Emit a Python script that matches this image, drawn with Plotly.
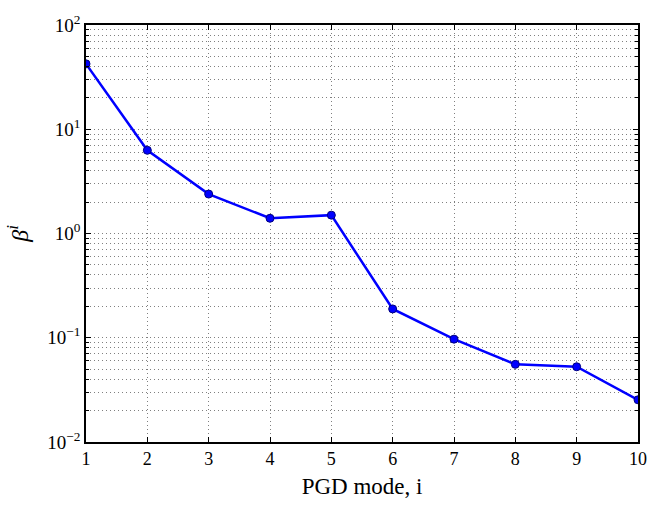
import plotly.graph_objects as go

modes = [1, 2, 3, 4, 5, 6, 7, 8, 9, 10]
beta = [42.4, 6.28, 2.39, 1.40, 1.50, 0.189, 0.097, 0.0556, 0.0527, 0.0254]

y_tickvals = [0.01, 0.1, 1, 10, 100]
y_ticktext = ["10<sup>−2</sup>", "10<sup>−1</sup>", "10<sup>0</sup>", "10<sup>1</sup>", "10<sup>2</sup>"]
minor_vals = [m * 10 ** e for e in range(-2, 2) for m in range(2, 10)]

fig = go.Figure()
fig.add_trace(go.Scatter(
    x=modes, y=beta, mode="lines+markers",
    line=dict(color="#0000ff", width=2.5),
    marker=dict(color="#0000ff", size=8, line=dict(color="#00007f", width=1)),
    showlegend=False,
))

font_family = "Liberation Serif, DejaVu Serif, serif"
grid_dash = "1px,3px"
grid_col = "#808080"
fig.update_layout(
    width=667, height=507,
    margin=dict(l=86, r=29, t=15, b=63),
    paper_bgcolor="white", plot_bgcolor="white",
    font=dict(family=font_family, color="black", size=18),
)
fig.update_xaxes(
    range=[1, 10], dtick=1, tick0=1,
    showline=True, linecolor="black", linewidth=1.5, mirror="ticks",
    ticks="inside", ticklen=5, tickcolor="black",
    showgrid=True, gridcolor=grid_col, griddash=grid_dash, gridwidth=1,
    zeroline=False,
    title=dict(text="PGD mode, i", font=dict(size=23), standoff=10),
    tickfont=dict(size=18),
)
fig.update_yaxes(
    type="log", range=[-2, 2],
    tickmode="array", tickvals=y_tickvals, ticktext=y_ticktext,
    showline=True, linecolor="black", linewidth=1.5, mirror="ticks",
    ticks="inside", ticklen=5, tickcolor="black",
    showgrid=True, gridcolor=grid_col, griddash=grid_dash, gridwidth=1,
    minor=dict(tickvals=minor_vals, ticks="inside", ticklen=3, tickcolor="black",
               showgrid=True, gridcolor=grid_col, griddash=grid_dash, gridwidth=1),
    zeroline=False,
    title=dict(text="<i>β<sup>i</sup></i>", font=dict(size=24), standoff=12),
    tickfont=dict(size=19),
)

fig.write_html("out.html")
